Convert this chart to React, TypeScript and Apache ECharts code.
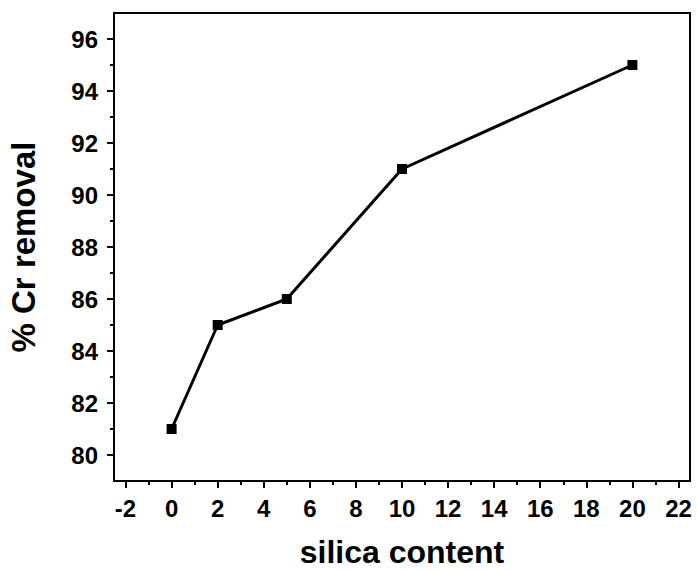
import React, { useEffect, useRef } from "react";
import * as echarts from "echarts";

const silica = [0, 2, 5, 10, 20];
const removal = [81, 85, 86, 91, 95];
const xMajorTicks = [-2, 0, 2, 4, 6, 8, 10, 12, 14, 16, 18, 20, 22];
const xMinorTicks = [-1, 1, 3, 5, 7, 9, 11, 13, 15, 17, 19, 21];
const yMajorTicks = [80, 82, 84, 86, 88, 90, 92, 94, 96];
const yMinorTicks = [81, 83, 85, 87, 89, 91, 93, 95];

const FONT = "'Liberation Sans', Arial, sans-serif";

export default function App() {
  const ref = useRef<HTMLDivElement>(null);
  useEffect(() => {
    if (!ref.current) return;
    const chart = echarts.init(ref.current, null, { renderer: "svg" });
    const labelStyle = { color: "#000", fontSize: 24, fontWeight: "bold" as const, fontFamily: FONT };
    chart.setOption({
      animation: false,
      backgroundColor: "#fff",
      grid: {
        left: 114,
        top: 13,
        right: 7,
        bottom: 90,
        containLabel: false,
        outerBoundsMode: "none",
        show: true,
        borderColor: "#000",
        borderWidth: 2,
        backgroundColor: "transparent",
      },
      xAxis: [
        {
          type: "value",
          position: "bottom",
          min: -2.5,
          max: 22.5,
          name: "silica content",
          nameLocation: "middle",
          nameGap: 55,
          nameTextStyle: { color: "#000", fontSize: 32, fontWeight: "bold", fontFamily: FONT, lineHeight: 32 },
          axisLine: { show: true, onZero: false, lineStyle: { color: "#000", width: 2 } },
          axisTick: { show: true, inside: false, length: 7, lineStyle: { color: "#000", width: 2 }, customValues: xMajorTicks },
          axisLabel: { ...labelStyle, margin: 15, customValues: xMajorTicks },
          splitLine: { show: false },
        },
        {
          type: "value",
          position: "bottom",
          min: -2.5,
          max: 22.5,
          axisLine: { show: false, onZero: false },
          axisTick: { show: true, inside: false, length: 4, lineStyle: { color: "#000", width: 2 }, customValues: xMinorTicks },
          axisLabel: { show: false },
          splitLine: { show: false },
        },
      ],
      yAxis: [
        {
          type: "value",
          position: "left",
          min: 79,
          max: 97,
          name: "% Cr removal",
          nameLocation: "middle",
          nameGap: 74,
          nameTextStyle: { color: "#000", fontSize: 33, fontWeight: "bold", fontFamily: FONT },
          axisLine: { show: true, onZero: false, lineStyle: { color: "#000", width: 2 } },
          axisTick: { show: true, inside: false, length: 7, lineStyle: { color: "#000", width: 2 }, customValues: yMajorTicks },
          axisLabel: { ...labelStyle, margin: 16, customValues: yMajorTicks },
          splitLine: { show: false },
        },
        {
          type: "value",
          position: "left",
          min: 79,
          max: 97,
          axisLine: { show: false, onZero: false },
          axisTick: { show: true, inside: false, length: 4, lineStyle: { color: "#000", width: 2 }, customValues: yMinorTicks },
          axisLabel: { show: false },
          splitLine: { show: false },
        },
      ],
      series: [
        {
          type: "line",
          xAxisIndex: 0,
          yAxisIndex: 0,
          data: silica.map((x, i) => [x, removal[i]]),
          symbol: "rect",
          symbolSize: 10,
          showSymbol: true,
          itemStyle: { color: "#000" },
          lineStyle: { color: "#000", width: 3 },
        },
      ],
    });
    return () => chart.dispose();
  }, []);
  return <div ref={ref} style={{ position: "fixed", left: 0, top: 0, width: 697, height: 571 }} />;
}
